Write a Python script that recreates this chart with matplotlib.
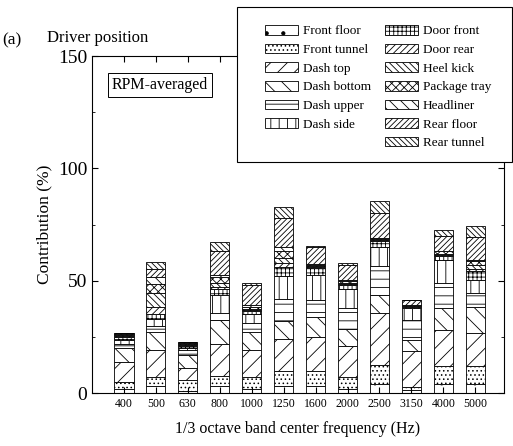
import numpy as np
import matplotlib
matplotlib.use("Agg")
import matplotlib.pyplot as plt
from matplotlib.patches import Patch, Rectangle

plt.rcParams['font.family'] = ['Liberation Serif', 'DejaVu Serif']
plt.rcParams['hatch.linewidth'] = 0.6

#### Dados
freqs = ['400', '500', '630', '800', '1000', '1250', '1600', '2000',
         '2500', '3150', '4000', '5000']

front_floor  = [2.0, 3.0, 1.0, 3.0, 2.0, 3.0, 3.0, 2.0, 4.0, 1.5, 4.0, 4.0]
front_tunnel = [3.0, 4.0, 5.0, 4.6, 5.0, 7.0, 7.0, 5.0, 8.6, 1.2, 8.2, 8.0]
dash_top     = [9.0, 12.0, 5.0, 14.0, 12.0, 14.0, 15.0, 14.0, 23.0, 16.0, 16.0, 14.7]
dash_bottom  = [6.0, 8.0, 6.0, 11.0, 8.0, 8.0, 9.0, 7.5, 8.1, 4.9, 9.6, 11.7]
dash_upper   = [2.0, 3.0, 2.0, 3.0, 4.0, 10.0, 7.5, 9.5, 12.8, 8.9, 11.2, 6.0]
dash_side    = [1.5, 3.0, 1.0, 8.0, 4.0, 10.0, 11.0, 8.4, 8.5, 5.3, 10.0, 6.0]
door_front   = [1.5, 2.0, 1.0, 2.5, 1.5, 4.0, 3.0, 1.5, 2.5, 0.5, 2.0, 4.0]
door_rear    = [0.5, 3.5, 0.5, 1.0, 0.5, 2.0, 0.5, 0.5, 0.5, 0.3, 0.5, 1.0]
heel_kick    = [0.3, 6.0, 0.3, 2.0, 0.5, 2.0, 0.5, 0.5, 0.5, 0.2, 0.5, 1.5]
package_tray = [0.3, 4.0, 0.3, 2.5, 1.0, 3.0, 0.5, 1.0, 0.5, 0.3, 1.0, 2.0]
headliner    = [0.2, 3.0, 0.2, 1.0, 0.5, 2.0, 0.5, 0.3, 0.0, 0.2, 0.0, 0.4]
rear_floor   = [0.2, 3.5, 0.2, 10.5, 9.0, 13.0, 7.5, 7.0, 11.0, 2.1, 7.0, 10.2]
rear_tunnel  = [0.1, 3.4, 0.1, 4.2, 0.8, 4.9, 0.4, 0.5, 5.6, 0.0, 2.5, 4.8]

labels = ['Front floor', 'Front tunnel', 'Dash top', 'Dash bottom', 'Dash upper',
          'Dash side', 'Door front', 'Door rear', 'Heel kick', 'Package tray',
          'Headliner', 'Rear floor', 'Rear tunnel']
series = [front_floor, front_tunnel, dash_top, dash_bottom, dash_upper, dash_side,
          door_front, door_rear, heel_kick, package_tray, headliner, rear_floor,
          rear_tunnel]
hatches = ['.', '....', '//', '\\\\', '--', '||', '++++', '/////', '\\\\\\\\\\',
           'xxxx', '\\\\\\', '//////', '\\\\\\\\\\\\']

#### Figura
fig = plt.figure(figsize=(5.13, 4.46), dpi=100)
ax = fig.add_axes([0.1793, 0.1188, 0.8032, 0.7556])

x = np.arange(len(freqs))
bottom = np.zeros(len(freqs))
handles = []
for vals, lab, h in zip(series, labels, hatches):
    ax.bar(x, vals, 0.6, bottom=bottom, color='white', edgecolor='black',
           linewidth=0.6, hatch=h)
    bottom += np.array(vals)
    handles.append(Patch(facecolor='white', edgecolor='black', linewidth=0.6,
                         hatch=h, label=lab))

ax.set_xlim(-1.0, 11.9)
ax.set_ylim(0, 150)
ax.set_xticks(x)
ax.set_xticklabels(freqs, fontsize=8.5)
ax.set_yticks([0, 50, 100, 150])
ax.set_yticks([25, 75, 125], minor=True)
ax.tick_params(axis='y', labelsize=14)
ax.tick_params(which='both', direction='in', top=True, right=True)
ax.tick_params(which='major', length=4)
ax.tick_params(which='minor', length=2)
ax.set_xlabel('1/3 octave band center frequency (Hz)', fontsize=11.5, labelpad=8)
ax.set_ylabel('Contribution (%)', fontsize=12.5, labelpad=4)

ax.text(0.165, 0.915, 'RPM-averaged', transform=ax.transAxes, fontsize=11.5,
        ha='center', va='center',
        bbox=dict(boxstyle='square,pad=0.25', facecolor='white',
                  edgecolor='black', linewidth=0.7))

fig.text(0.005, 0.91, '(a)', fontsize=12.5, va='center')
fig.text(0.092, 0.915, 'Driver position', fontsize=12, va='center')

#### Legenda (caixa desenhada a parte)
fig.patches.append(Rectangle((237 / 513, 1 - 162 / 446), 275 / 513, 155 / 446,
                             transform=fig.transFigure, facecolor='white',
                             edgecolor='black', linewidth=0.8, zorder=5))
blank = Patch(facecolor='none', edgecolor='none', label='')
leg_handles = handles[:6] + [blank] + handles[6:]
leg = fig.legend(handles=leg_handles, ncol=2, loc='upper left',
                 bbox_to_anchor=(265 / 513, 1 - 25 / 446), frameon=False,
                 fontsize=9.5, handlelength=2.5, handleheight=0.75,
                 labelspacing=0.47, columnspacing=1.1, handletextpad=0.35,
                 borderpad=0.0, borderaxespad=0.0)
leg.set_zorder(6)

fig.savefig('out.png', dpi=100)
